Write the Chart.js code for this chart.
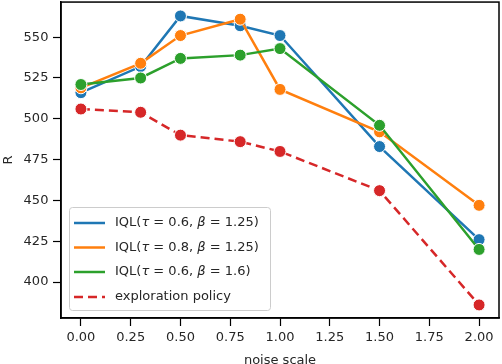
<!DOCTYPE html>
<html>
<head>
<meta charset="utf-8">
<script src="https://cdn.jsdelivr.net/npm/chart.js@4"></script>
<style>
  html, body { margin: 0; padding: 0; background: #fff; }
  #wrap { width: 502px; height: 364px; position: relative; }
</style>
</head>
<body>
<div id="wrap"><canvas id="grafico"></canvas></div>
<script>
// datos
const noiseScale = [0, 0.3, 0.5, 0.8, 1.0, 1.5, 2.0];
const iqlA = [516, 532, 563, 557, 551, 483, 426];   // tau 0.6, beta 1.25
const iqlB = [519, 534, 551, 561, 518, 492, 447];   // tau 0.8, beta 1.25
const iqlC = [521, 525, 537, 539, 543, 496, 420];   // tau 0.6, beta 1.6
const exploration = [506, 504, 490, 486, 480, 456, 386];

const xTicks = [0, 0.25, 0.5, 0.75, 1.0, 1.25, 1.5, 1.75, 2.0];
const yTicks = [400, 425, 450, 475, 500, 525, 550];

const colores = ['#1f77b4', '#ff7f0e', '#2ca02c', '#d62728'];
const FONT = 'DejaVu Sans';

// partes de cada etiqueta de la leyenda: [texto, cursiva]
const leyenda = [
  [['IQL(', false], ['\u03c4', true], [' = 0.6, ', false], ['\u03b2', true], [' = 1.25)', false]],
  [['IQL(', false], ['\u03c4', true], [' = 0.8, ', false], ['\u03b2', true], [' = 1.25)', false]],
  [['IQL(', false], ['\u03c4', true], [' = 0.6, ', false], ['\u03b2', true], [' = 1.6)', false]],
  [['exploration policy', false]]
];

function serie(vals) {
  return vals.map((v, i) => ({ x: noiseScale[i], y: v }));
}

function dataset(vals, color, order, dash) {
  return {
    data: serie(vals),
    borderColor: color,
    backgroundColor: color,
    borderWidth: 2.5,
    borderDash: dash || [],
    pointRadius: 6,
    pointHoverRadius: 6,
    pointBorderColor: '#fff',
    pointBorderWidth: 1,
    pointBackgroundColor: color,
    tension: 0,
    clip: false,
    order: order
  };
}

const marco = {
  id: 'marco',
  afterDraw(chart) {
    const { ctx, chartArea: a } = chart;
    ctx.save();
    ctx.strokeStyle = '#000';
    ctx.lineWidth = 1.5;
    ctx.strokeRect(a.left, a.top, a.right - a.left, a.bottom - a.top);

    // leyenda
    const bx = 69, by = 207, bw = 201, bh = 103;
    ctx.fillStyle = 'rgba(255,255,255,0.8)';
    ctx.strokeStyle = '#cccccc';
    ctx.lineWidth = 1;
    ctx.beginPath();
    ctx.roundRect(bx + 0.5, by + 0.5, bw, bh, 3);
    ctx.fill();
    ctx.stroke();

    const filas = [223, 247.5, 272, 297];
    leyenda.forEach((partes, i) => {
      const y = filas[i];
      ctx.strokeStyle = colores[i];
      ctx.lineWidth = 2.5;
      ctx.setLineDash(i === 3 ? [9, 5] : []);
      ctx.beginPath();
      ctx.moveTo(74, y);
      ctx.lineTo(105, y);
      ctx.stroke();
      ctx.setLineDash([]);
      let x = 115;
      ctx.fillStyle = '#262626';
      ctx.textBaseline = 'middle';
      partes.forEach(([txt, it]) => {
        ctx.font = (it ? 'italic ' : '') + '13px "' + FONT + '"';
        ctx.fillText(txt, x, y);
        x += ctx.measureText(txt).width;
      });
    });
    ctx.restore();
  }
};

new Chart(document.getElementById('grafico'), {
  type: 'line',
  data: {
    datasets: [
      dataset(iqlA, colores[0], 4),
      dataset(iqlB, colores[1], 3),
      dataset(iqlC, colores[2], 2),
      dataset(exploration, colores[3], 1, [9, 5])
    ]
  },
  options: {
    responsive: true,
    maintainAspectRatio: false,
    animation: false,
    layout: { autoPadding: false, padding: { top: 2, right: 3, left: 0, bottom: 0 } },
    plugins: { legend: { display: false }, tooltip: { enabled: false } },
    scales: {
      x: {
        type: 'linear',
        min: -0.1,
        max: 2.1,
        afterBuildTicks: s => { s.ticks = xTicks.map(v => ({ value: v })); },
        afterFit: s => { s.height = 46; },
        grid: { drawOnChartArea: false, tickLength: 8, tickColor: '#000', tickWidth: 1.2 },
        border: { display: true, color: '#000', width: 1.5 },
        ticks: {
          padding: 4,
          color: '#262626',
          font: { family: FONT, size: 13 },
          maxRotation: 0,
          callback: v => Number(v).toFixed(2)
        },
        title: {
          display: true,
          text: 'noise scale',
          color: '#262626',
          font: { family: FONT, size: 13 },
          padding: { top: 2, bottom: -4 }
        }
      },
      y: {
        min: 378,
        max: 571.5,
        afterBuildTicks: s => { s.ticks = yTicks.map(v => ({ value: v })); },
        afterFit: s => { s.width = 61; },
        grid: { drawOnChartArea: false, tickLength: 8, tickColor: '#000', tickWidth: 1.2 },
        border: { display: true, color: '#000', width: 1.5 },
        ticks: {
          padding: 2,
          color: '#262626',
          font: { family: FONT, size: 13, lineHeight: 0.01 },
          callback: v => v + '\u2009'
        },
        title: {
          display: true,
          text: 'R',
          color: '#262626',
          font: { family: FONT, size: 13 },
          padding: { top: 1, bottom: 0 }
        }
      }
    }
  },
  plugins: [marco]
});
</script>
</body>
</html>
